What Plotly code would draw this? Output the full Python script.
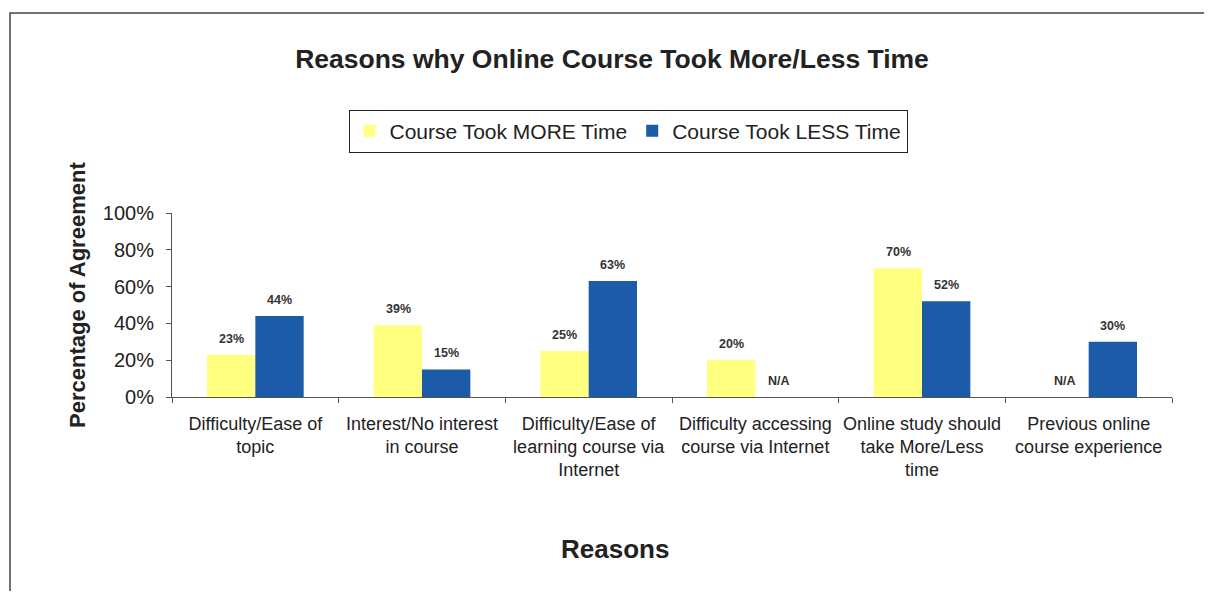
import plotly.graph_objects as go

categories = [
    "Difficulty/Ease of<br>topic",
    "Interest/No interest<br>in course",
    "Difficulty/Ease of<br>learning course via<br>Internet",
    "Difficulty accessing<br>course via Internet",
    "Online study should<br>take More/Less<br>time",
    "Previous online<br>course experience",
]
more_time = [23, 39, 25, 20, 70, None]
less_time = [44, 15, 63, None, 52, 30]
series_names = ["Course Took MORE Time", "Course Took LESS Time"]
y_ticks = [0, 20, 40, 60, 80, 100]
y_tick_text = ["0%", "20%", "40%", "60%", "80%", "100%"]

YELLOW = "#FFFF80"
BLUE = "#1B5BA8"
FONT = "Liberation Sans, Arial, sans-serif"
TXT = "#222222"

# page body has an 8px margin; work in reference pixels and convert
OFF = 8
W, H = 1196, 583
PLOT_X0, PLOT_X1, PLOT_Y0, PLOT_Y1 = 172, 1172, 213, 397   # reference pixels
L = PLOT_X0 - OFF
T = PLOT_Y0 - OFF
PW = PLOT_X1 - PLOT_X0
PH = PLOT_Y1 - PLOT_Y0
R = W - L - PW
B = H - T - PH

def px_x(x):
    return (x - PLOT_X0) / PW

def px_y(y):
    return (PLOT_Y1 - y) / PH

fig = go.Figure()
fig.add_trace(go.Bar(x=categories, y=more_time, name=series_names[0],
                     marker=dict(color=YELLOW, line=dict(width=0))))
fig.add_trace(go.Bar(x=categories, y=less_time, name=series_names[1],
                     marker=dict(color=BLUE, line=dict(width=0))))

annotations = []
for series, shift in ((more_time, -24), (less_time, 24)):
    for cat, v in zip(categories, series):
        annotations.append(dict(
            x=cat, y=v if v is not None else 0, xref="x", yref="y",
            xshift=shift, yshift=16,
            text=f"<b>{v}%</b>" if v is not None else "<b>N/A</b>",
            showarrow=False, yanchor="middle",
            font=dict(family=FONT, size=12.5, color="#333333"),
        ))

annotations.append(dict(
    text="<b>Percentage of Agreement</b>", textangle=-90,
    x=px_x(77), y=px_y(295), xref="paper", yref="paper",
    xanchor="center", yanchor="middle",
    showarrow=False, font=dict(family=FONT, size=22, color=TXT),
))
annotations.append(dict(
    text="<b>Reasons</b>",
    x=px_x(615), y=px_y(549), xref="paper", yref="paper",
    xanchor="center", yanchor="middle",
    showarrow=False, font=dict(family=FONT, size=26, color=TXT),
))

fig.update_layout(
    width=W, height=H,
    margin=dict(l=L, r=R, t=T, b=B),
    paper_bgcolor="white", plot_bgcolor="white",
    font=dict(family=FONT, color=TXT),
    title=dict(text="<b>Reasons why Online Course Took More/Less Time</b>",
               x=px_x(612), xref="paper", xanchor="center",
               y=1 - (59 - OFF) / H, yref="container", yanchor="middle",
               font=dict(family=FONT, size=26.5, color=TXT)),
    barmode="group", bargap=0.42, bargroupgap=0,
    showlegend=True,
    legend=dict(orientation="h", x=px_x(628), y=px_y(131),
                xanchor="center", yanchor="middle",
                bordercolor="#222222", borderwidth=1,
                font=dict(family=FONT, size=21, color=TXT),
                itemwidth=30, traceorder="normal"),
    annotations=annotations,
    shapes=[dict(type="rect", xref="paper", yref="paper",
                 x0=px_x(10), x1=px_x(1216), y0=px_y(605), y1=px_y(13),
                 line=dict(color="#444444", width=1.5), fillcolor="rgba(0,0,0,0)",
                 layer="below")],
)

fig.update_yaxes(range=[0, 100], tickvals=y_ticks, ticktext=y_tick_text,
                 showgrid=False, zeroline=False, showline=True,
                 linecolor="#555555", linewidth=1, ticks="outside", ticklen=5,
                 tickcolor="#555555", ticklabelstandoff=8,
                 tickfont=dict(family=FONT, size=20, color=TXT))
fig.update_xaxes(showgrid=False, showline=True, linecolor="#555555", linewidth=1,
                 ticks="outside", tickson="boundaries", ticklen=5,
                 tickcolor="#555555", tickangle=0, ticklabelstandoff=10,
                 tickfont=dict(family=FONT, size=18, color=TXT))

fig.write_html("out.html")
